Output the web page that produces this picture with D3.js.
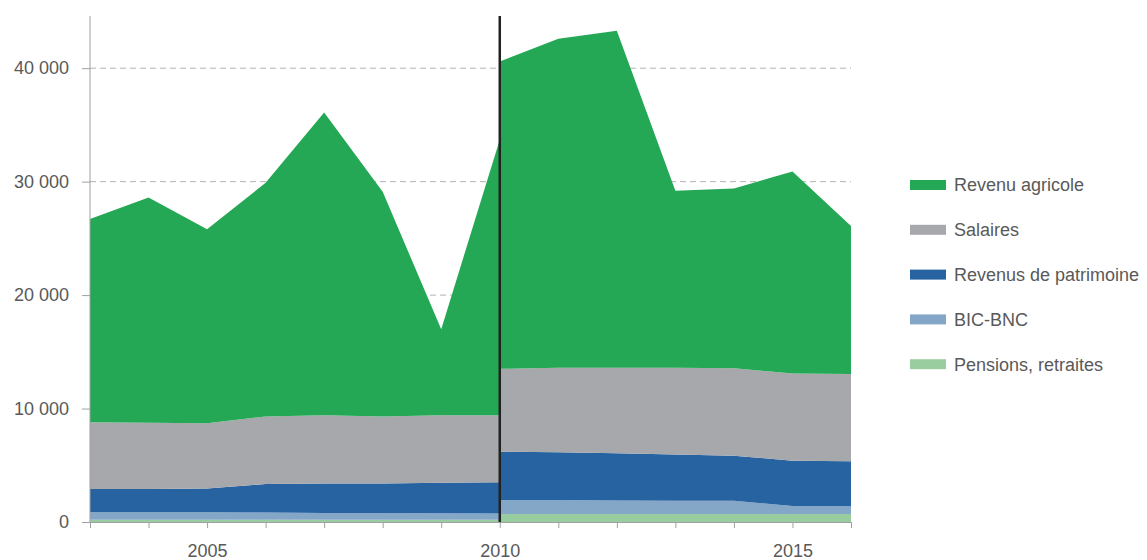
<!DOCTYPE html>
<html>
<head>
<meta charset="utf-8">
<script src="https://cdn.jsdelivr.net/npm/d3@7"></script>
<style>
  body { margin: 0; background: #fff; }
  svg { font-family: 'Liberation Sans', Arial, sans-serif; }
</style>
</head>
<body>
<div id="chart"></div>
<script>
// years, split in two segments around the 2010 break
const yearsA = [2003, 2004, 2005, 2006, 2007, 2008, 2009, 2010]
const yearsB = [2010, 2011, 2012, 2013, 2014, 2015, 2016]

const seriesNames = ['Pensions, retraites', 'BIC-BNC', 'Revenus de patrimoine', 'Salaires', 'Revenu agricole']
const seriesColors = ['#99cc9f', '#84a7c8', '#2763a1', '#a7a8ab', '#24a855']

// layer values (not cumulated), segment A = 2003-2010, segment B = 2010-2016
const pensionsA = [200, 200, 200, 200, 200, 200, 200, 200]
const bicA = [650, 650, 650, 630, 600, 600, 580, 550]
const patrimoineA = [2050, 2050, 2100, 2520, 2600, 2600, 2670, 2750]
const salairesA = [5900, 5850, 5750, 5950, 6000, 5900, 5950, 5900]
const agricoleA = [17900, 19850, 17100, 20600, 26700, 19800, 7600, 24300]

const pensionsB = [700, 700, 700, 700, 700, 700, 700]
const bicB = [1250, 1230, 1200, 1180, 1170, 700, 700]
const patrimoineB = [4250, 4220, 4150, 4070, 3980, 4000, 3950]
const salairesB = [7300, 7450, 7550, 7650, 7700, 7700, 7700]
const agricoleB = [27100, 29000, 29700, 15600, 15850, 17800, 13050]

const yTicks = [0, 10000, 20000, 30000, 40000]
const xLabels = [2005, 2010, 2015]
const breakYear = 2010

const width = 1147
const height = 560
const plot = { left: 90, right: 851, top: 16, bottom: 522 }

function buildRows (years, cols) {
  return years.map((yr, i) => {
    const row = { year: yr }
    seriesNames.forEach((name, k) => { row[name] = cols[k][i] })
    return row
  })
}

const rowsA = buildRows(yearsA, [pensionsA, bicA, patrimoineA, salairesA, agricoleA])
const rowsB = buildRows(yearsB, [pensionsB, bicB, patrimoineB, salairesB, agricoleB])

const svg = d3.select('#chart')
  .append('svg')
  .attr('width', width)
  .attr('height', height)

const x = d3.scaleLinear().domain([2003, 2016]).range([plot.left, plot.right])
const y = d3.scaleLinear().domain([0, 44600]).range([plot.bottom, plot.top])

const fmt = v => d3.format(',')(v).replace(/,/g, ' ')

// dashed grid lines
svg.append('g')
  .selectAll('line')
  .data(yTicks.filter(d => d > 0))
  .enter()
  .append('line')
  .attr('x1', plot.left)
  .attr('x2', plot.right)
  .attr('y1', d => y(d))
  .attr('y2', d => y(d))
  .attr('stroke', '#b3b3b3')
  .attr('stroke-width', 1)
  .attr('stroke-dasharray', '6,4')

// stacked areas
const stack = d3.stack().keys(seriesNames)
const area = d3.area()
  .x(d => x(d.data.year))
  .y0(d => y(d[0]))
  .y1(d => y(d[1]))

;[rowsA, rowsB].forEach(rows => {
  svg.append('g')
    .selectAll('path')
    .data(stack(rows))
    .enter()
    .append('path')
    .attr('fill', (d, i) => seriesColors[i])
    .attr('d', area)
})

// y axis
const yAxis = svg.append('g')
  .attr('transform', `translate(${plot.left},0)`)
  .call(d3.axisLeft(y).tickValues(yTicks).tickSize(8).tickPadding(13).tickFormat(fmt))
yAxis.select('.domain').remove()
yAxis.append('line')
  .attr('x1', 0).attr('x2', 0)
  .attr('y1', plot.top).attr('y2', plot.bottom)
  .attr('stroke', '#a0a0a0')
yAxis.selectAll('.tick line').attr('stroke', '#a0a0a0')
yAxis.selectAll('.tick text')
  .attr('fill', '#595959')
  .style('font-size', '18px')

// x axis
const xAxis = svg.append('g')
  .attr('transform', `translate(0,${plot.bottom})`)
  .call(d3.axisBottom(x).tickValues(d3.range(2003, 2017)).tickSize(6).tickSizeOuter(0)
    .tickFormat(d => xLabels.includes(d) ? d : ''))
xAxis.select('.domain').attr('stroke', '#a0a0a0')
xAxis.selectAll('.tick line').attr('stroke', '#a0a0a0')
xAxis.selectAll('.tick text')
  .attr('fill', '#595959')
  .attr('y', 35)
  .attr('dy', 0)
  .style('font-size', '18px')

// break line at 2010
svg.append('line')
  .attr('x1', x(breakYear)).attr('x2', x(breakYear))
  .attr('y1', plot.top).attr('y2', plot.bottom)
  .attr('stroke', '#222')
  .attr('stroke-width', 2.5)

// legend (top item = Revenu agricole)
const legendItems = seriesNames.map((n, i) => ({ name: n, color: seriesColors[i] })).reverse()
const legend = svg.append('g')
  .selectAll('g')
  .data(legendItems)
  .enter()
  .append('g')
  .attr('transform', (d, i) => `translate(910,${185 + i * 44.8})`)
legend.append('rect')
  .attr('x', 0).attr('y', -5)
  .attr('width', 36).attr('height', 10)
  .attr('fill', d => d.color)
legend.append('text')
  .attr('x', 44)
  .attr('y', 0)
  .attr('dy', '0.35em')
  .attr('fill', '#595959')
  .style('font-size', '18px')
  .text(d => d.name)
</script>
</body>
</html>
